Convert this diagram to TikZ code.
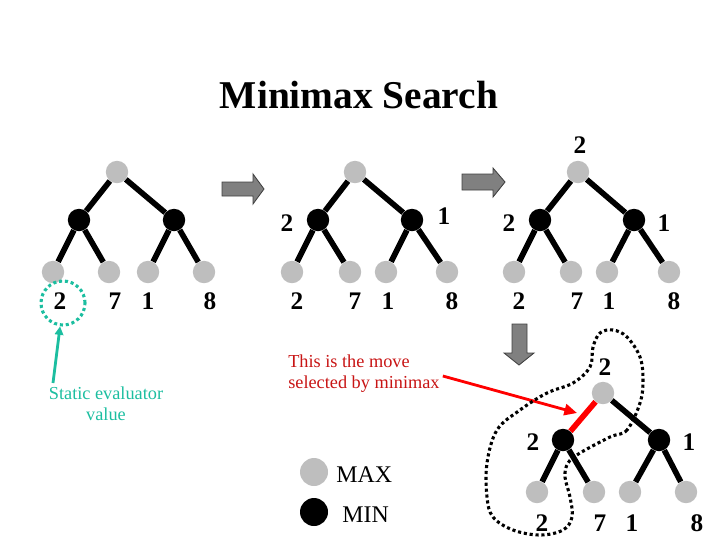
\documentclass[tikz,border=0pt]{standalone}
\usepackage{fontspec}
\setmainfont{Liberation Serif}
\usetikzlibrary{arrows.meta,backgrounds}
\definecolor{maxgray}{RGB}{190,190,190}
\definecolor{blockgray}{RGB}{128,128,128}
\definecolor{evalteal}{RGB}{28,190,160}
\definecolor{movered}{RGB}{200,20,20}
\tikzset{
  maxnode/.style={circle, fill=maxgray, minimum size=0.56cm, inner sep=0pt},
  minnode/.style={circle, fill=black, minimum size=0.56cm, inner sep=0pt},
  treeline/.style={line width=4pt},
  val/.style={font=\bfseries\fontsize{18}{20}\selectfont, inner sep=0pt},
  blockarrow/.style={draw=black!75, fill=blockgray, line width=0.6pt},
  note/.style={font=\fontsize{13}{15}\selectfont, inner sep=0pt}
}

\begin{document}
\begin{tikzpicture}[x=0.025cm, y=-0.025cm]
  \useasboundingbox (0,0) rectangle (720,540);

  % Title
  \node[font=\bfseries\fontsize{28}{32}\selectfont, anchor=base] (title) at (359,108) {Minimax Search};

  % Tree 1: leaves only evaluated
  \node[maxnode] (r1) at (117,172) {};
  \node[minnode] (a1) at (79,220) {};
  \node[minnode] (b1) at (174,220) {};
  \node[maxnode] (a1l) at (53,272) {};
  \node[maxnode] (a1r) at (109,272) {};
  \node[maxnode] (b1l) at (148,272) {};
  \node[maxnode] (b1r) at (204,272) {};
  \node[val] (v1a) at (60,301) {2};
  \node[val] (v1b) at (115,301) {7};
  \node[val] (v1c) at (148,301) {1};
  \node[val] (v1d) at (210,301) {8};

  % Tree 2: MIN values backed up
  \node[maxnode] (r2) at (355,172) {};
  \node[minnode] (a2) at (318,220) {};
  \node[minnode] (b2) at (412,220) {};
  \node[maxnode] (a2l) at (292,272) {};
  \node[maxnode] (a2r) at (350,272) {};
  \node[maxnode] (b2l) at (386,272) {};
  \node[maxnode] (b2r) at (447,272) {};
  \node[val] (m2a) at (287,223) {2};
  \node[val] (m2b) at (444,216) {1};
  \node[val] (v2a) at (297,301) {2};
  \node[val] (v2b) at (355,301) {7};
  \node[val] (v2c) at (388,301) {1};
  \node[val] (v2d) at (452,301) {8};

  % Tree 3: MAX value backed up
  \node[maxnode] (r3) at (578,172) {};
  \node[minnode] (a3) at (540,220) {};
  \node[minnode] (b3) at (634,220) {};
  \node[maxnode] (a3l) at (514,272) {};
  \node[maxnode] (a3r) at (571,272) {};
  \node[maxnode] (b3l) at (607,272) {};
  \node[maxnode] (b3r) at (669,272) {};
  \node[val] (t3) at (580,145) {2};
  \node[val] (m3a) at (509,223) {2};
  \node[val] (m3b) at (664,223) {1};
  \node[val] (v3a) at (519,301) {2};
  \node[val] (v3b) at (577,301) {7};
  \node[val] (v3c) at (609,301) {1};
  \node[val] (v3d) at (674,301) {8};

  % Tree 4: chosen move
  \node[maxnode] (r4) at (603,393) {};
  \node[minnode] (a4) at (563,440) {};
  \node[minnode] (b4) at (659,440) {};
  \node[maxnode] (a4l) at (537,492) {};
  \node[maxnode] (a4r) at (594,492) {};
  \node[maxnode] (b4l) at (630,492) {};
  \node[maxnode] (b4r) at (686,492) {};
  \node[val] (t4) at (605,367) {2};
  \node[val] (m4a) at (533,442) {2};
  \node[val] (m4b) at (689,442) {1};
  \node[val] (v4a) at (542,523) {2};
  \node[val] (v4b) at (600,523) {7};
  \node[val] (v4c) at (632,523) {1};
  \node[val] (v4d) at (697,523) {8};

  \begin{scope}[on background layer]
    \draw[treeline] (r1) -- (a1) (r1) -- (b1) (a1) -- (a1l) (a1) -- (a1r) (b1) -- (b1l) (b1) -- (b1r);
    \draw[treeline] (r2) -- (a2) (r2) -- (b2) (a2) -- (a2l) (a2) -- (a2r) (b2) -- (b2l) (b2) -- (b2r);
    \draw[treeline] (r3) -- (a3) (r3) -- (b3) (a3) -- (a3l) (a3) -- (a3r) (b3) -- (b3l) (b3) -- (b3r);
    \draw[treeline] (r4) -- (b4) (a4) -- (a4l) (a4) -- (a4r) (b4) -- (b4l) (b4) -- (b4r);
    \draw[treeline, red] (r4) -- (a4);
  \end{scope}

  % Block arrows between the steps
  \draw[blockarrow] (222,182) -- (253,182) -- (253,174) -- (264,189) -- (253,204) -- (253,196) -- (222,196) -- cycle;
  \draw[blockarrow] (462,174) -- (493,174) -- (493,168) -- (505,182) -- (493,197) -- (493,190) -- (462,190) -- cycle;
  \draw[blockarrow] (512,324) -- (527,324) -- (527,353) -- (534,353) -- (519,365) -- (504,353) -- (512,353) -- cycle;

  % Static evaluator note
  \node[circle, draw=evalteal, dotted, line width=2.2pt, minimum size=1.1cm] (evalring) at (63,303) {};
  \node[note, text=evalteal, align=center] (evaltext) at (106,404) {Static evaluator\\value};
  \coordinate (evalfoot) at (53,383);
  \draw[evalteal, line width=2pt, -{Triangle[length=6pt,width=6pt]}] (evalfoot) -- (evalring);

  % Move note
  \node[note, text=movered, align=left, anchor=west] (movetext) at (288,374) {This is the move\\selected by minimax};
  \coordinate (movetip) at (577,413);
  \draw[red, line width=2pt, -{Triangle[length=9pt,width=8pt]}] (movetext.east) ++(3,2) -- (movetip);

  % Dotted outline of the chosen line
  \draw[dotted, line width=2.2pt] plot[smooth cycle, tension=0.6] coordinates {
    (640,403) (627,430) (610,437) (580,453) (568,463) (565,477) (570,497) (572,517)
    (563,530) (540,535) (513,530) (493,517) (487,497) (487,463) (497,430) (520,410)
    (547,393) (573,383) (590,367) (593,347) (600,333) (613,330) (627,337) (640,357) (643,380)};

  % Legend
  \node[maxnode, minimum size=0.7cm] (legmax) at (314,472) {};
  \node[minnode, minimum size=0.7cm] (legmin) at (314,512) {};
  \node[font=\fontsize{17}{20}\selectfont, anchor=west, inner sep=0pt] (maxlabel) at (336,475) {MAX};
  \node[font=\fontsize{17}{20}\selectfont, anchor=west, inner sep=0pt] (minlabel) at (342,515) {MIN};
\end{tikzpicture}
\end{document}
